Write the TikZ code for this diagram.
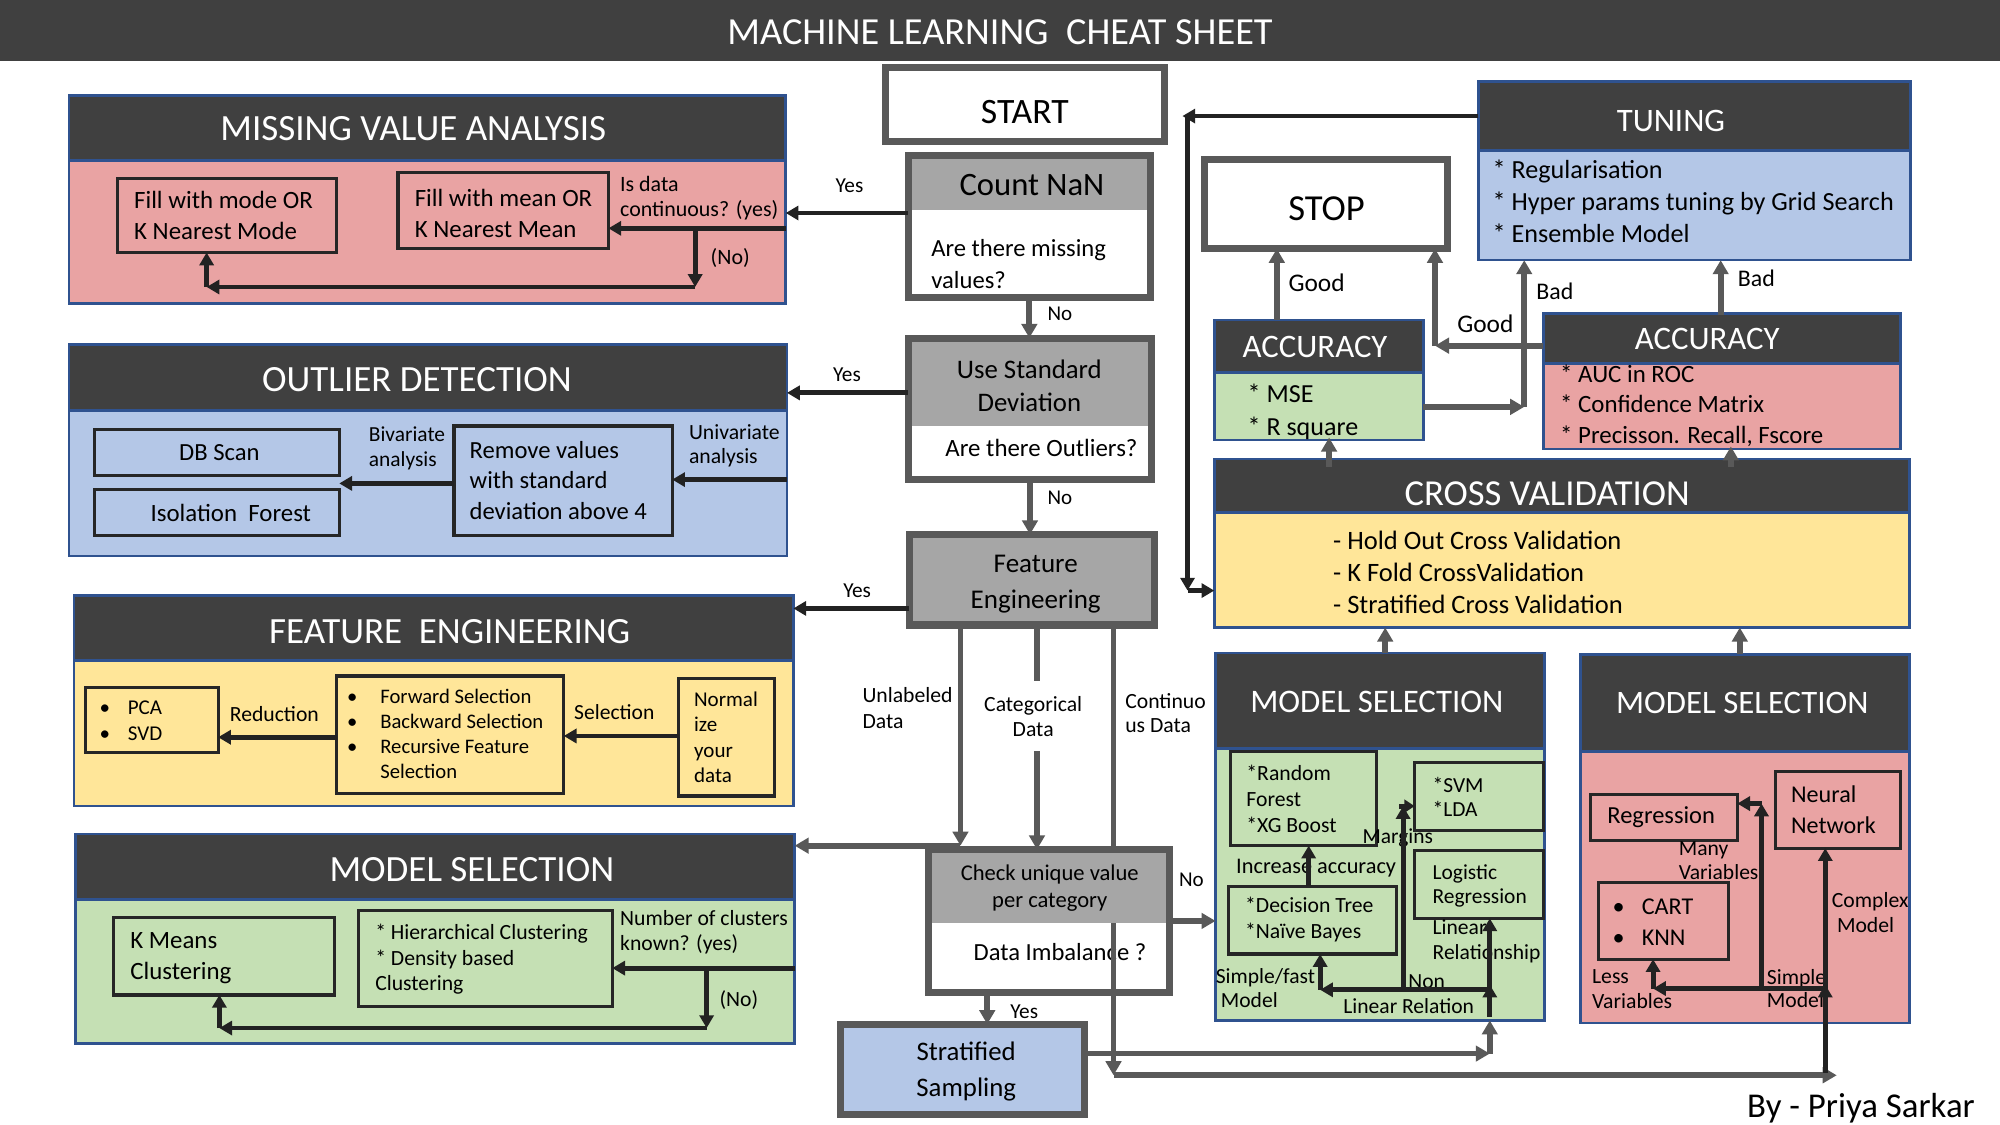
\documentclass[tikz,border=0pt]{standalone}
\usepackage{fontspec}
\setmainfont{Carlito}
\usetikzlibrary{arrows.meta}
\definecolor{titlegray}{HTML}{404040}
\definecolor{hdrgray}{HTML}{404040}
\definecolor{panelblue}{HTML}{2F528F}
\definecolor{pinkbody}{HTML}{E9A3A3}
\definecolor{bluebody}{HTML}{B4C7E7}
\definecolor{yellowbody}{HTML}{FFE699}
\definecolor{greenbody}{HTML}{C5E0B4}
\definecolor{flowgray}{HTML}{595959}
\definecolor{midgray}{HTML}{A6A6A6}
\definecolor{blackline}{HTML}{222222}
\definecolor{boxline}{HTML}{262626}
\newcommand{\fs}[2]{\fontsize{#1}{#2}\selectfont}
\newcommand{\mybox}[6]{\node[#2, minimum width={(#5-#3)*1pt}, minimum height={(#6-#4)*1pt}, anchor=north west, inner sep=0pt, outer sep=0pt] (#1) at (#3,#4) {};}
\tikzset{
  panel/.style={draw=panelblue, line width=2pt},
  hdr/.style={draw=panelblue, line width=2pt, fill=hdrgray},
  ibox/.style={draw=boxline, line width=2.5pt},
  gbox/.style={draw=flowgray, line width=5.5pt},
  htxt/.style={text=white, inner sep=0pt},
  ctxt/.style={inner sep=0pt, align=center},
  ltxt/.style={inner sep=0pt, anchor=west, align=left},
  garrow/.style={draw=flowgray, line width=4.5pt, -{Triangle[length=11pt,width=12pt]}},
  gline/.style={draw=flowgray, line width=4.5pt},
  barrow/.style={draw=blackline, line width=3.8pt, -{Triangle[length=10pt,width=11pt]}},
  bline/.style={draw=blackline, line width=3.8pt},
}
\begin{document}
\begin{tikzpicture}[x=1pt,y=-1pt]
\useasboundingbox (0,0) rectangle (1568,882);

% ===== Title
\mybox{titlebar}{fill=titlegray}{0}{0}{1568}{48}
\node[htxt, font=\fs{30}{36}] (title) at (784,25) {MACHINE LEARNING\hspace{14pt}CHEAT SHEET};

% ===== Missing value analysis
\mybox{mva}{panel, fill=pinkbody}{54}{75}{616}{238}
\mybox{mvah}{hdr}{54}{75}{616}{126}
\node[htxt, font=\fs{29}{32}] (mvat) at (324,101) {MISSING VALUE ANALYSIS};
\mybox{mode}{ibox}{92}{140}{264}{198}
\node[ltxt, font=\fs{19.5}{24}] (modet) at (105,169) {Fill with mode OR\\K Nearest Mode};
\mybox{mean}{ibox}{312}{135}{477}{195}
\node[ltxt, font=\fs{19.5}{24.3}] (meant) at (325,167) {Fill with mean OR\\K Nearest Mean};
\node[ltxt, font=\fs{17.2}{20}] (isdata) at (486,155.5) {Is data\\continuous? (yes)};
\node[ltxt, font=\fs{17.2}{20}] (mvano) at (557,202) {(No)};

% ===== Outlier detection
\mybox{od}{panel, fill=bluebody}{54}{270}{617}{436}
\mybox{odh}{hdr}{54}{270}{617}{322}
\node[htxt, font=\fs{29}{32}] (odt) at (327,298) {OUTLIER DETECTION};
\mybox{dbs}{ibox}{74}{337}{266}{373}
\node[ctxt, font=\fs{19.3}{23}] (dbst) at (172,355) {DB Scan};
\mybox{iso}{ibox}{74}{384}{266}{420}
\node[ctxt, font=\fs{19.5}{23}] (isot) at (181,402) {Isolation\ \ Forest};
\mybox{rem}{ibox}{356}{334}{527}{420}
\node[ltxt, font=\fs{19.3}{24}] (remt) at (368,376.5) {Remove values\\with standard\\deviation above 4};
\node[ltxt, font=\fs{16.8}{19}] (biv) at (289,351.5) {Bivariate\\analysis};
\node[ltxt, font=\fs{17}{19}] (univ) at (540,349.5) {Univariate\\analysis};

% ===== Feature engineering panel
\mybox{fe}{panel, fill=yellowbody}{58}{467}{622}{632}
\mybox{feh}{hdr}{58}{467}{622}{518}
\node[htxt, font=\fs{29}{32}] (fet) at (352.5,495) {FEATURE\ \ ENGINEERING};
\mybox{pca}{ibox}{67}{539}{171}{590}
\node[ltxt, font=\fs{16.5}{20.5}] (pcat) at (78,565) {\makebox[22pt][l]{\textbullet}PCA\\\makebox[22pt][l]{\textbullet}SVD};
\mybox{fsel}{ibox}{264}{530}{442}{622}
\node[ltxt, font=\fs{16.2}{19.6}] (fselt) at (272,575.5) {\makebox[26pt][l]{\textbullet}Forward Selection\\\makebox[26pt][l]{\textbullet}Backward Selection\\\makebox[26pt][l]{\textbullet}Recursive Feature\\\makebox[26pt][l]{}Selection};
\node[ltxt, font=\fs{17}{20}] (redt) at (180,560) {Reduction};
\node[ltxt, font=\fs{16.9}{20}] (selt) at (450,558) {Selection};
\mybox{norm}{ibox}{532}{532}{607}{624}
\node[ltxt, font=\fs{16.5}{19.7}] (normt) at (544,578) {Normal\\ize\\your\\data};

% ===== Model selection (left)
\mybox{msl}{panel, fill=greenbody}{59}{654}{623}{818}
\mybox{mslh}{hdr}{59}{654}{623}{705}
\node[htxt, font=\fs{29}{32}] (mslt) at (370,682) {MODEL SELECTION};
\mybox{km}{ibox}{89}{719}{262}{780}
\node[ltxt, font=\fs{19.5}{24}] (kmt) at (102,751) {K Means\\Clustering};
\mybox{hc}{ibox}{281}{714}{480}{789}
\node[ltxt, font=\fs{17}{20}] (hct) at (294,752) {* Hierarchical Clustering\\* Density based\\Clustering};
\node[ltxt, font=\fs{17}{20}] (nclt) at (486,731) {Number of clusters\\known? (yes)};
\node[ltxt, font=\fs{17}{20}] (mslno) at (564,784) {(No)};

% ===== Central flow
\mybox{start}{gbox, fill=white}{694}{53}{913}{111}
\node[ctxt, font=\fs{28}{30}] (startt) at (803.5,88) {START};

\mybox{cnt}{gbox, fill=white}{712}{122}{902}{233}
\mybox{cnth}{fill=midgray}{715}{125}{899}{165}
\node[ctxt, font=\fs{25.6}{28}] (cntt) at (809,145) {Count NaN};
\node[ltxt, font=\fs{19.3}{24.5}] (cntq) at (730,207) {Are there missing\\values?};

\mybox{sd}{gbox, fill=white}{712}{265}{903}{376}
\mybox{sdh}{fill=midgray}{715}{268}{900}{334}
\node[ctxt, font=\fs{21}{25.5}] (sdt) at (807,302.5) {Use Standard\\Deviation};
\node[ctxt, font=\fs{19.5}{22}] (sdq) at (816.5,351) {Are there Outliers?};

\mybox{fen}{gbox, fill=midgray}{713}{419}{905}{490}
\node[ctxt, font=\fs{21.2}{27.5}] (fent) at (812,458) {Feature\\Engineering};

% continuous-data line runs behind the check box
\coordinate (con) at (873,843);
\draw[garrow] (fen.south -| con) -- (con);

\mybox{chk}{gbox, fill=white}{728}{666}{917}{778}
\mybox{chkh}{fill=midgray}{731}{669}{914}{724}
\node[ctxt, font=\fs{17.7}{21.3}] (chkt) at (823,696.5) {Check unique value\\per category};
\node[ctxt, font=\fs{19.3}{22}] (chkq) at (831,746.5) {Data Imbalance ?};
\draw[gline] (chkh.south -| con) -- (chk.south -| con);

\mybox{strat}{gbox, fill=bluebody}{659}{803}{850}{874}
\node[ctxt, font=\fs{21}{27.8}] (stratt) at (757.5,840) {Stratified\\Sampling};

\node[ltxt, font=\fs{17}{20}] (unlt) at (676,555) {Unlabeled\\Data};
\node[ctxt, font=\fs{17}{19.6}] (catt) at (810,562) {Categorical\\Data};
\node[ltxt, font=\fs{17}{19.4}] (cont) at (882,559) {Continuo\\us Data};

% ===== Right side
\mybox{tun}{panel, fill=bluebody}{1159}{64}{1498}{204}
\mybox{tunh}{hdr}{1159}{64}{1498}{118}
\node[htxt, font=\fs{25.7}{28}] (tunt) at (1310,95) {TUNING};
\node[ltxt, font=\fs{20.5}{25}] (tuni) at (1170,158) {* Regularisation\\* Hyper params tuning by Grid Search\\* Ensemble Model};

\mybox{stop}{gbox, fill=white}{944}{125}{1135}{195}
\node[ctxt, font=\fs{28.7}{30}] (stopt) at (1040,164) {STOP};

\mybox{accg}{panel, fill=greenbody}{952}{251}{1116}{345}
\mybox{accgh}{hdr}{952}{251}{1116}{292}
\node[htxt, font=\fs{25.7}{28}] (accgt) at (1031,272) {ACCURACY};
\node[ltxt, font=\fs{20.4}{26}] (accgi) at (978,323) {* MSE\\* R square};

\mybox{accr}{panel, fill=pinkbody}{1210}{246}{1490}{352}
\mybox{accrh}{hdr}{1210}{246}{1490}{285}
\node[htxt, font=\fs{25.7}{28}] (accrt) at (1338.5,266) {ACCURACY};
\node[ltxt, font=\fs{19.5}{24}] (accri) at (1223,318) {* AUC in ROC\\* Confidence Matrix\\* Precisson. Recall, Fscore};

\mybox{cv}{panel, fill=yellowbody}{952}{360}{1497}{492}
\mybox{cvh}{hdr}{952}{360}{1497}{402}
\node[htxt, font=\fs{28.7}{30}] (cvt) at (1213,387) {CROSS VALIDATION};
\node[ltxt, font=\fs{20.8}{25}] (cvi) at (1045,449) {- Hold Out Cross Validation\\- K Fold CrossValidation\\- Stratified Cross Validation};

% Model selection (green)
\mybox{ms2}{panel, fill=greenbody}{953}{512}{1211}{800}
\mybox{ms2h}{hdr}{953}{512}{1211}{587}
\node[htxt, font=\fs{25.8}{28}] (ms2t) at (1079.5,550) {MODEL SELECTION};
\mybox{rf}{ibox}{965}{589}{1079}{663}
\node[ltxt, font=\fs{17}{20.5}] (rft) at (977,626.5) {*Random\\Forest\\*XG Boost};
\mybox{svm}{ibox}{1109}{598}{1210}{651}
\node[ltxt, font=\fs{16.8}{19}] (svmt) at (1123,624.5) {*SVM\\*LDA};
\mybox{lr}{ibox}{1109}{667}{1210}{720}
\node[ltxt, font=\fs{16.8}{19}] (lrt) at (1123,694.5) {Logistic\\Regression};
\mybox{dt}{ibox}{963}{695}{1095}{748}
\node[ltxt, font=\fs{17}{20}] (dtt) at (976,721) {*Decision Tree\\*Naïve Bayes};
\node[ltxt, font=\fs{16.8}{20}] (marg) at (1068,657) {Margins};
\node[ltxt, font=\fs{17.5}{20}] (incr) at (969,681) {Increase accuracy};
\node[ltxt, font=\fs{16.9}{20}] (linr) at (1123,738) {Linear\\Relationship};
\node[ltxt, font=\fs{16.9}{19}] (simf) at (953,774.5) {Simple/fast\\\hspace*{4pt}Model};
\node[ltxt, font=\fs{16.9}{20}] (nonl) at (1104,770) {Non};
\node[ltxt, font=\fs{16.9}{20}] (linrel) at (1053,789) {Linear Relation};

% Model selection (pink)
\mybox{ms3}{panel, fill=pinkbody}{1239}{513}{1497}{802}
\mybox{ms3h}{hdr}{1239}{513}{1497}{589}
\node[htxt, font=\fs{25.7}{28}] (ms3t) at (1366,551) {MODEL SELECTION};
\mybox{reg}{ibox}{1247}{623}{1362}{659}
\node[ltxt, font=\fs{19.2}{22}] (regt) at (1260,641) {Regression};
\mybox{nn}{ibox}{1392}{605}{1490}{665}
\node[ltxt, font=\fs{18.9}{24}] (nnt) at (1404,635) {Neural\\Network};
\mybox{cart}{ibox}{1253}{692}{1355}{752}
\node[ltxt, font=\fs{18.9}{24}] (cartt) at (1264,723) {\makebox[23pt][l]{\textbullet}CART\\\makebox[23pt][l]{\textbullet}KNN};
\node[ltxt, font=\fs{16.9}{19}] (manyv) at (1316,674.5) {Many\\Variables};
\node[ltxt, font=\fs{17}{19}] (cmplx) at (1436,715.5) {Complex\\\hspace*{4pt}Model};
\node[ltxt, font=\fs{17}{19}] (lessv) at (1248,775.5) {Less\\Variables};
\node[ltxt, font=\fs{17}{18}] (simm) at (1385,775) {Simple\\Model};

\node[ctxt, font=\fs{27.3}{30}] (by) at (1459,869) {By - Priya Sarkar};

% ===== Connectors: labels
\node[ctxt, font=\fs{16.7}{20}] (yes1t) at (666,146) {Yes};
\node[ctxt, font=\fs{16.7}{20}] (yes2t) at (664,294) {Yes};
\node[ctxt, font=\fs{16.7}{20}] (yes3t) at (672,463) {Yes};
\node[ctxt, font=\fs{16.7}{20}] (yes4t) at (803,793) {Yes};
\node[ctxt, font=\fs{16.5}{20}] (no1t) at (831,246) {No};
\node[ctxt, font=\fs{16.5}{20}] (no2t) at (831,390.5) {No};
\node[ctxt, font=\fs{16.5}{20}] (no3t) at (934,690) {No};
\node[ltxt, font=\fs{19.9}{22}] (good1) at (1010,222) {Good};
\node[ctxt, font=\fs{19.9}{22}] (good2) at (1164.5,254) {Good};
\node[ctxt, font=\fs{18.7}{22}] (bad1) at (1219,228) {Bad};
\node[ctxt, font=\fs{18.7}{22}] (bad2) at (1377,218) {Bad};

% ===== Connectors: main flow
\coordinate (yes1) at (712,167);
\draw[barrow] (yes1) -- (mva.east |- yes1);
\draw[garrow] (cnt.south) -- (cnt.south |- sd.north);
\coordinate (yes2) at (712,308);
\draw[barrow] (yes2) -- (od.east |- yes2);
\draw[garrow] (sd.south) -- (sd.south |- fen.north);
\coordinate (yes3) at (713,477);
\draw[barrow] (yes3) -- (fe.east |- yes3);

\coordinate (unl) at (753,663);
\draw[garrow] (fen.south -| unl) -- (unl);
\draw[garrow] (unl) -- (msl.east |- unl);
\coordinate (cat1) at (813,534);
\coordinate (cat2) at (813,589);
\draw[gline] (fen.south -| cat1) -- (cat1);
\draw[garrow] (cat2) -- (chk.north -| cat2);

\coordinate (noin) at (917,722);
\draw[garrow] (noin) -- (ms2.west |- noin);
\coordinate (yes4) at (774,778);
\draw[garrow] (yes4) -- (strat.north -| yes4);
\coordinate (stc) at (1168,826);
\draw[garrow] (strat.east |- stc) -- (stc);
\draw[garrow] (stc) -- (ms2.south -| stc);
\coordinate (ms3in) at (1440,843);
\draw[garrow] (con) -- (ms3in);

% MVA inner
\coordinate (mvaj) at (545,179);
\coordinate (mvad) at (545,225);
\coordinate (mvak) at (162,225);
\draw[barrow] (mva.east |- mvaj) -- (mean.east |- mvaj);
\draw[barrow] (mvaj) -- (mvad);
\draw[barrow] (mvad) -- (mvak);
\draw[barrow] (mvak) -- (mode.south -| mvak);

% Outlier inner
\coordinate (odin) at (617,376);
\draw[barrow] (odin) -- (rem.east |- odin);
\coordinate (odb) at (356,379);
\draw[barrow] (odb) -- (dbs.east |- odb);

% Feature engineering inner
\coordinate (fesel) at (532,577);
\draw[barrow] (norm.west |- fesel) -- (fsel.east |- fesel);
\coordinate (ferd) at (264,578);
\draw[barrow] (fsel.west |- ferd) -- (pca.east |- ferd);

% Model selection left inner
\coordinate (mslj) at (554,759);
\coordinate (msld) at (554,806);
\coordinate (mslk) at (172,806);
\draw[barrow] (msl.east |- mslj) -- (hc.east |- mslj);
\draw[barrow] (mslj) -- (msld);
\draw[barrow] (msld) -- (mslk);
\draw[barrow] (mslk) -- (km.south -| mslk);

% Tuning loop
\coordinate (tj) at (931,91);
\coordinate (tjs) at (927,91);
\coordinate (tjd) at (931,463);
\draw[barrow] (tun.west |- tj) -- (tjs);
\draw[barrow] (tj) -- (tjd);
\draw[barrow] (tjd) -- (cv.west |- tjd);

% Accuracy / stop / tuning
\coordinate (g1) at (1001,251);
\draw[garrow] (g1) -- (stop.south -| g1);
\coordinate (g2) at (1125,271);
\draw[garrow] (accr.west |- g2) -- (g2);
\draw[garrow] (g2) -- (stop.south -| g2);
\coordinate (b1) at (1195,319);
\draw[garrow] (accg.east |- b1) -- (b1);
\draw[garrow] (b1) -- (tun.south -| b1);
\coordinate (b2) at (1349,247);
\draw[garrow] (b2) -- (tun.south -| b2);

% Cross validation up arrows
\coordinate (cv1) at (1042,366);
\coordinate (cv2) at (1357,366);
\draw[garrow] (cv1) -- ([yshift=2pt]accg.south -| cv1);
\draw[garrow] (cv2) -- ([yshift=2pt]accr.south -| cv2);
\coordinate (m2) at (1086,512);
\draw[garrow] (ms2.north -| m2) -- (cv.south -| m2);
\coordinate (m3) at (1364,514);
\draw[garrow] (ms3.north -| m3) -- (cv.south -| m3);

% Model selection green inner
\coordinate (dtr) at (1026,695);
\draw[barrow] (dt.north -| dtr) -- (rf.south -| dtr);
\coordinate (ms2j) at (1168,776);
\coordinate (ms2k) at (1035,776);
\draw[barrow] (ms2j) -- (ms2k);
\draw[barrow] (ms2k) -- (dt.south -| ms2k);
\coordinate (ms2m) at (1100,776);
\coordinate (ms2n) at (1100,632);
\coordinate (ms2o) at (1097,632);
\draw[barrow] (ms2m) -- (ms2n);
\draw[draw=blackline, line width=3.8pt, -{Triangle[length=8pt,width=10pt]}] (ms2o) -- (svm.west |- ms2o);
\coordinate (ms2b) at (1168,797);
\coordinate (ms2c) at (1168,772);
\draw[barrow] (ms2b) -- (ms2c);
\draw[barrow] (ms2j) -- (lr.south -| ms2j);

% Model selection pink inner
\coordinate (ms3j) at (1432,775);
\coordinate (ms3k) at (1296,775);
\draw[barrow] (ms3j) -- (ms3k);
\draw[barrow] (ms3k) -- (cart.south -| ms3k);
\coordinate (ms3m) at (1381,775);
\coordinate (ms3n) at (1381,630);
\draw[barrow] (ms3m) -- (ms3n);
\draw[barrow] (ms3n) -- (reg.east |- ms3n);
\coordinate (ms3b) at (1431,841);
\coordinate (ms3c) at (1431,772);
\coordinate (ms3d) at (1431,776);
\draw[barrow] (ms3b) -- (ms3c);
\draw[barrow] (ms3d) -- (nn.south -| ms3d);
\end{tikzpicture}
\end{document}
